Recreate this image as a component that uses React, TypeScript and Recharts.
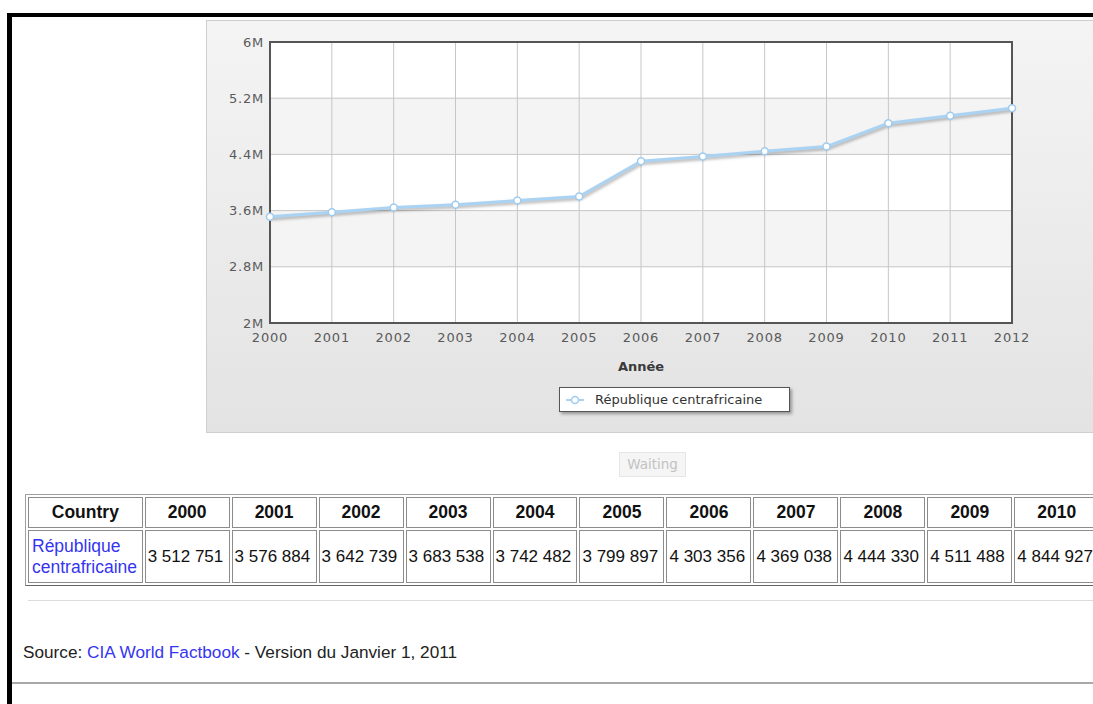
import React from "react";
import {
  CartesianGrid,
  Legend,
  Line,
  LineChart,
  ReferenceArea,
  XAxis,
  YAxis,
} from "recharts";

const years = [2000, 2001, 2002, 2003, 2004, 2005, 2006, 2007, 2008, 2009, 2010, 2011, 2012];
const population = [
  3512751, 3576884, 3642739, 3683538, 3742482, 3799897, 4303356, 4369038, 4444330,
  4511488, 4844927, 4950000, 5057000,
];
const yTicks = [2000000, 2800000, 3600000, 4400000, 5200000, 6000000];
const seriesName = "République centrafricaine";
const tableYears = ["2000", "2001", "2002", "2003", "2004", "2005", "2006", "2007", "2008", "2009", "2010"];
const tableValues = [
  "3 512 751", "3 576 884", "3 642 739", "3 683 538", "3 742 482", "3 799 897",
  "4 303 356", "4 369 038", "4 444 330", "4 511 488", "4 844 927",
];

const data = years.map((year, i) => ({ year, value: population[i] }));

const tickStyle = {
  fontFamily: "DejaVu Sans, Verdana, sans-serif",
  fontSize: 13,
  fill: "#5a5a5a",
  letterSpacing: 0.8,
};

const formatMillions = (v: number) => `${Math.round(v / 100000) / 10}M`;

function LegendBox() {
  return (
    <div
      style={{
        width: 229,
        height: 23,
        background: "#fff",
        border: "1px solid #555",
        boxShadow: "2px 2px 3px rgba(0,0,0,0.35)",
        display: "flex",
        alignItems: "center",
        fontFamily: "DejaVu Sans, Verdana, sans-serif",
        fontSize: 13,
        color: "#333",
      }}
    >
      <svg width={33} height={12} style={{ marginLeft: 2 }}>
        <line x1={4} y1={6} x2={22} y2={6} stroke="#aad3f3" strokeWidth={2} />
        <circle cx={13} cy={6} r={3.5} fill="#fff" stroke="#9fcbef" strokeWidth={1.5} />
      </svg>
      <span>{seriesName}</span>
    </div>
  );
}

const cellBorder = "1px solid #8c8c8c";

export default function App() {
  return (
    <div
      style={{
        position: "absolute",
        left: 0,
        top: 0,
        width: 1093,
        height: 704,
        overflow: "hidden",
        background: "#fff",
      }}
    >
      <style>{`.pop-line .recharts-line-curve { filter: drop-shadow(1px 2px 1.5px rgba(0,0,0,0.3)); }`}</style>

      {/* page frame */}
      <div
        style={{
          position: "absolute",
          left: 7,
          top: 13,
          width: 1120,
          height: 720,
          borderLeft: "5px solid #000",
          borderTop: "4px solid #000",
        }}
      />

      {/* chart panel */}
      <div
        style={{
          position: "absolute",
          left: 206,
          top: 20,
          width: 900,
          height: 411,
          background: "linear-gradient(#f4f4f4, #e3e3e3)",
          border: "1px solid #cfcfcf",
        }}
      >
        <LineChart
          width={887}
          height={411}
          data={data}
          margin={{ top: 21, right: 82, bottom: 57, left: 0 }}
        >
          <CartesianGrid
            stroke="#c6c6c6"
            horizontalFill={["#ffffff", "#f4f4f4"]}
            fillOpacity={1}
          />
          <XAxis
            dataKey="year"
            height={52}
            axisLine={false}
            tickLine={false}
            tickSize={8}
            tickMargin={2}
            tick={tickStyle}
            interval={0}
            label={{
              value: "Année",
              position: "insideBottom",
              offset: 4,
              style: {
                fontFamily: "DejaVu Sans, Verdana, sans-serif",
                fontSize: 13,
                fontWeight: "bold",
                fill: "#3a3a3a",
              },
            }}
          />
          <YAxis
            width={63}
            domain={[2000000, 6000000]}
            ticks={yTicks}
            axisLine={false}
            tickLine={false}
            tickSize={4}
            tickMargin={2}
            tick={tickStyle}
            tickFormatter={formatMillions}
          />
          <ReferenceArea
            x1={2000}
            x2={2012}
            y1={2000000}
            y2={6000000}
            fill="none"
            stroke="#555"
            strokeWidth={2}
            ifOverflow="visible"
          />
          <Legend
            layout="horizontal"
            verticalAlign="middle"
            align="center"
            wrapperStyle={{ left: 352, top: 366, width: 231, height: 25 }}
            content={() => <LegendBox />}
          />
          <Line
            className="pop-line"
            type="linear"
            dataKey="value"
            name={seriesName}
            stroke="#aad3f3"
            strokeWidth={3}
            dot={{ r: 3.5, fill: "#fff", stroke: "#9fcbef", strokeWidth: 1.5 }}
            isAnimationActive={false}
          />
        </LineChart>
      </div>

      {/* waiting button */}
      <div
        style={{
          position: "absolute",
          left: 619,
          top: 452,
          width: 65,
          height: 23,
          background: "#f5f5f5",
          border: "1px solid #e6e6e6",
          color: "#c2c2c2",
          fontFamily: "DejaVu Sans, Verdana, sans-serif",
          fontSize: 13.5,
          lineHeight: "23px",
          textAlign: "center",
        }}
      >
        Waiting
      </div>

      {/* data table */}
      <table
        style={{
          position: "absolute",
          left: 25,
          top: 494,
          borderSpacing: 2,
          border: "1px solid #a0a0a0",
          borderRightColor: "#666",
          borderBottomColor: "#666",
          tableLayout: "fixed",
          fontFamily: "Liberation Sans, Arial, sans-serif",
          fontSize: 17.5,
          color: "#111",
          width: 1180,
        }}
      >
        <colgroup>
          <col style={{ width: 114 }} />
          {tableYears.map((y) => (
            <col key={y} style={{ width: 84.5 }} />
          ))}
          <col style={{ width: 100 }} />
        </colgroup>
        <thead>
          <tr style={{ height: 31 }}>
            <th style={{ border: cellBorder, padding: "4px 3px" }}>Country</th>
            {tableYears.map((y) => (
              <th key={y} style={{ border: cellBorder, padding: "4px 3px" }}>
                {y}
              </th>
            ))}
            <th style={{ border: cellBorder }} />
          </tr>
        </thead>
        <tbody>
          <tr style={{ height: 53 }}>
            <td
              style={{
                border: cellBorder,
                padding: "4px 3px",
                color: "#3535f0",
                lineHeight: "21px",
                textAlign: "left",
              }}
            >
              République centrafricaine
            </td>
            {tableValues.map((v, i) => (
              <td
                key={i}
                style={{
                  border: cellBorder,
                  padding: "4px 0px 4px 2px",
                  textAlign: "left",
                  whiteSpace: "nowrap",
                  fontSize: 17,
                }}
              >
                {v}
              </td>
            ))}
            <td style={{ border: cellBorder }} />
          </tr>
        </tbody>
      </table>

      {/* rule under the table */}
      <div
        style={{
          position: "absolute",
          left: 28,
          top: 600,
          width: 1100,
          height: 1,
          background: "#dcdcdc",
        }}
      />

      {/* source line */}
      <div
        style={{
          position: "absolute",
          left: 23,
          top: 642,
          fontFamily: "Liberation Sans, Arial, sans-serif",
          fontSize: 17.2,
          color: "#222",
          whiteSpace: "nowrap",
        }}
      >
        Source: <span style={{ color: "#3535f0" }}>CIA World Factbook</span> - Version du
        Janvier 1, 2011
      </div>

      {/* bottom rule */}
      <div
        style={{
          position: "absolute",
          left: 12,
          top: 682,
          width: 1100,
          height: 2,
          background: "#a8a8a8",
        }}
      />
    </div>
  );
}
